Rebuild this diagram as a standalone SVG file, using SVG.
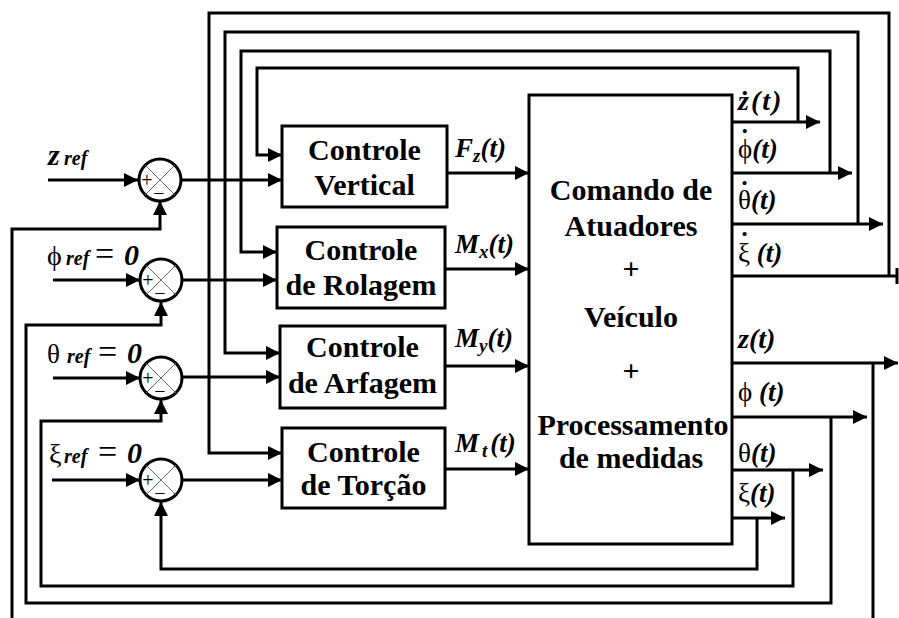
<svg xmlns="http://www.w3.org/2000/svg" width="899" height="618" viewBox="0 0 899 618">
<style>
.ln{stroke:#000;stroke-width:3;fill:none}
.box{stroke:#000;stroke-width:3;fill:#fff}
.sum{stroke:#000;stroke-width:3;fill:#fff}
.x{stroke:#666;stroke-width:1}
</style>
<defs>
<marker id="a" markerUnits="userSpaceOnUse" markerWidth="15" markerHeight="15" refX="14" refY="7" orient="auto">
<path d="M0,0 L14,7 L0,14 z" fill="#000"/>
</marker>
</defs>

<g id="connectors">
<path class="ln" d="M48,180 H138" marker-end="url(#a)"/>
<path class="ln" d="M53,280 H140" marker-end="url(#a)"/>
<path class="ln" d="M53,378 H140" marker-end="url(#a)"/>
<path class="ln" d="M52,480 H140" marker-end="url(#a)"/>
<path class="ln" d="M180,180 H282" marker-end="url(#a)"/>
<path class="ln" d="M182,280 H277" marker-end="url(#a)"/>
<path class="ln" d="M182,377 H280" marker-end="url(#a)"/>
<path class="ln" d="M182,480 H282" marker-end="url(#a)"/>
<path class="ln" d="M447,173 H529" marker-end="url(#a)"/>
<path class="ln" d="M445,269 H529" marker-end="url(#a)"/>
<path class="ln" d="M445,366 H529" marker-end="url(#a)"/>
<path class="ln" d="M445,469 H529" marker-end="url(#a)"/>
<path class="ln" d="M732,122 H820" marker-end="url(#a)"/>
<path class="ln" d="M732,173 H852" marker-end="url(#a)"/>
<path class="ln" d="M732,224 H883" marker-end="url(#a)"/>
<path class="ln" d="M732,276 H898 M897,268 V284"/>
<path class="ln" d="M732,363 H898" marker-end="url(#a)"/>
<path class="ln" d="M732,417 H867" marker-end="url(#a)"/>
<path class="ln" d="M732,470 H823" marker-end="url(#a)"/>
<path class="ln" d="M732,518 H785" marker-end="url(#a)"/>
<path class="ln" d="M798,122 V68 H257 V155 H282" marker-end="url(#a)"/>
<path class="ln" d="M830,173 V51 H241 V252 H277" marker-end="url(#a)"/>
<path class="ln" d="M858,224 V32 H225 V353 H280" marker-end="url(#a)"/>
<path class="ln" d="M889,276 V13 H209 V453 H282" marker-end="url(#a)"/>
<path class="ln" d="M873,363 V620"/>
<path class="ln" d="M12,620 V229 H160 V201" marker-end="url(#a)"/>
<path class="ln" d="M831,417 V603 H26 V325 H161 V302" marker-end="url(#a)"/>
<path class="ln" d="M793,470 V586 H41 V421 H161 V400" marker-end="url(#a)"/>
<path class="ln" d="M757,518 V569 H161 V502" marker-end="url(#a)"/>
</g>

<g id="sum-z">
<circle class="sum" cx="160" cy="180" r="21"/>
<path class="x" d="M145,165 L175,195 M175,165 L145,195"/>
<text font-family="Liberation Serif" font-size="20" x="147" y="187" text-anchor="middle">+</text>
<text font-family="Liberation Serif" font-size="20" x="159" y="200" text-anchor="middle">−</text>
</g>
<g id="sum-phi">
<circle class="sum" cx="161" cy="280" r="21"/>
<path class="x" d="M146,265 L176,295 M176,265 L146,295"/>
<text font-family="Liberation Serif" font-size="20" x="148" y="287" text-anchor="middle">+</text>
<text font-family="Liberation Serif" font-size="20" x="160" y="300" text-anchor="middle">−</text>
</g>
<g id="sum-theta">
<circle class="sum" cx="161" cy="378" r="21"/>
<path class="x" d="M146,363 L176,393 M176,363 L146,393"/>
<text font-family="Liberation Serif" font-size="20" x="148" y="385" text-anchor="middle">+</text>
<text font-family="Liberation Serif" font-size="20" x="160" y="398" text-anchor="middle">−</text>
</g>
<g id="sum-xi">
<circle class="sum" cx="161" cy="480" r="21"/>
<path class="x" d="M146,465 L176,495 M176,465 L146,495"/>
<text font-family="Liberation Serif" font-size="20" x="148" y="487" text-anchor="middle">+</text>
<text font-family="Liberation Serif" font-size="20" x="160" y="500" text-anchor="middle">−</text>
</g>

<g id="in-z"><text font-family="Liberation Serif" font-weight="bold" font-style="italic" font-size="30" x="48" y="165">z<tspan font-size="20" x="64">ref</tspan></text></g>
<g id="in-phi"><text font-family="Liberation Serif" font-size="28" x="47" y="265">ϕ<tspan font-size="20" font-weight="bold" font-style="italic" x="66">ref</tspan><tspan font-size="34" x="95">=</tspan><tspan font-weight="bold" font-style="italic" font-size="30" x="124">0</tspan></text></g>
<g id="in-theta"><text font-family="Liberation Serif" font-size="27" x="47" y="363">θ<tspan font-size="20" font-weight="bold" font-style="italic" x="67">ref</tspan><tspan font-size="34" x="98">=</tspan><tspan font-weight="bold" font-style="italic" font-size="30" x="127">0</tspan></text></g>
<g id="in-xi"><text font-family="Liberation Serif" font-size="28" x="49" y="463">ξ<tspan font-size="20" font-weight="bold" font-style="italic" x="64">ref</tspan><tspan font-size="34" x="98">=</tspan><tspan font-weight="bold" font-style="italic" font-size="30" x="127">0</tspan></text></g>

<g id="ctrl-vertical">
<rect class="box" x="282" y="126" width="165" height="81"/>
<text font-family="Liberation Serif" font-weight="bold" font-size="30" text-anchor="middle" x="364.5" y="160">Controle</text>
<text font-family="Liberation Serif" font-weight="bold" font-size="30" text-anchor="middle" x="364.5" y="195">Vertical</text>
</g>
<g id="ctrl-rolagem">
<rect class="box" x="277" y="227" width="168" height="81"/>
<text font-family="Liberation Serif" font-weight="bold" font-size="30" text-anchor="middle" x="361" y="260">Controle</text>
<text font-family="Liberation Serif" font-weight="bold" font-size="30" text-anchor="middle" x="361" y="295">de Rolagem</text>
</g>
<g id="ctrl-arfagem">
<rect class="box" x="280" y="326" width="165" height="82"/>
<text font-family="Liberation Serif" font-weight="bold" font-size="30" text-anchor="middle" x="362.5" y="357">Controle</text>
<text font-family="Liberation Serif" font-weight="bold" font-size="30" text-anchor="middle" x="362.5" y="393">de Arfagem</text>
</g>
<g id="ctrl-torcao">
<rect class="box" x="282" y="428" width="163" height="80"/>
<text font-family="Liberation Serif" font-weight="bold" font-size="30" text-anchor="middle" x="363.5" y="462">Controle</text>
<text font-family="Liberation Serif" font-weight="bold" font-size="30" text-anchor="middle" x="363.5" y="495">de Torção</text>
</g>

<g id="plant">
<rect class="box" x="529" y="95" width="203" height="449"/>
<text font-family="Liberation Serif" font-weight="bold" font-size="30" text-anchor="middle" x="631" y="200">Comando de</text>
<text font-family="Liberation Serif" font-weight="bold" font-size="30" text-anchor="middle" x="631" y="236">Atuadores</text>
<text font-family="Liberation Serif" font-weight="bold" font-size="30" text-anchor="middle" x="631" y="279">+</text>
<text font-family="Liberation Serif" font-weight="bold" font-size="30" text-anchor="middle" x="631" y="327">Veículo</text>
<text font-family="Liberation Serif" font-weight="bold" font-size="30" text-anchor="middle" x="631" y="381">+</text>
<text font-family="Liberation Serif" font-weight="bold" font-size="30" text-anchor="middle" x="633" y="435">Processamento</text>
<text font-family="Liberation Serif" font-weight="bold" font-size="30" text-anchor="middle" x="631" y="468">de medidas</text>
</g>

<g id="lbl-ctrl">
<text font-family="Liberation Serif" font-weight="bold" font-style="italic" font-size="27" x="455" y="157">F<tspan font-size="19" dy="5">z</tspan><tspan dy="-5">(t)</tspan></text>
<text font-family="Liberation Serif" font-weight="bold" font-style="italic" font-size="27" x="455" y="253">M<tspan font-size="19" dy="5">x</tspan><tspan dy="-5">(t)</tspan></text>
<text font-family="Liberation Serif" font-weight="bold" font-style="italic" font-size="27" x="455" y="347">M<tspan font-size="19" dy="5">y</tspan><tspan dy="-5">(t)</tspan></text>
<text font-family="Liberation Serif" font-weight="bold" font-style="italic" font-size="27" x="455" y="452">M<tspan font-size="19" dy="5" dx="3">t</tspan><tspan dy="-5" dx="3">(t)</tspan></text>
</g>

<g id="lbl-out">
<text font-family="Liberation Serif" font-weight="bold" font-style="italic" font-size="28" letter-spacing="2" x="738" y="110">ż(t)</text>
<text font-family="Liberation Serif" font-size="27" x="738" y="158">ϕ<tspan font-weight="bold" dx="-12" dy="-10">˙</tspan><tspan font-weight="bold" font-style="italic" dx="3" dy="10">(t)</tspan></text>
<text font-family="Liberation Serif" font-size="27" x="738" y="209">θ<tspan font-weight="bold" dx="-11" dy="-9">˙</tspan><tspan font-weight="bold" font-style="italic" dx="2" dy="9">(t)</tspan></text>
<text font-family="Liberation Serif" font-size="27" x="738" y="262">ξ<tspan font-weight="bold" dx="-10" dy="-11">˙</tspan><tspan font-weight="bold" font-style="italic" dx="1" dy="11"> (t)</tspan></text>
<text font-family="Liberation Serif" font-weight="bold" font-style="italic" font-size="28" x="738" y="348">z(t)</text>
<text font-family="Liberation Serif" font-size="27" x="738" y="401">ϕ<tspan font-weight="bold" font-style="italic"> (t)</tspan></text>
<text font-family="Liberation Serif" font-size="27" x="738" y="462">θ<tspan font-weight="bold" font-style="italic">(t)</tspan></text>
<text font-family="Liberation Serif" font-size="27" x="738" y="502">ξ<tspan font-weight="bold" font-style="italic">(t)</tspan></text>
</g>
</svg>
